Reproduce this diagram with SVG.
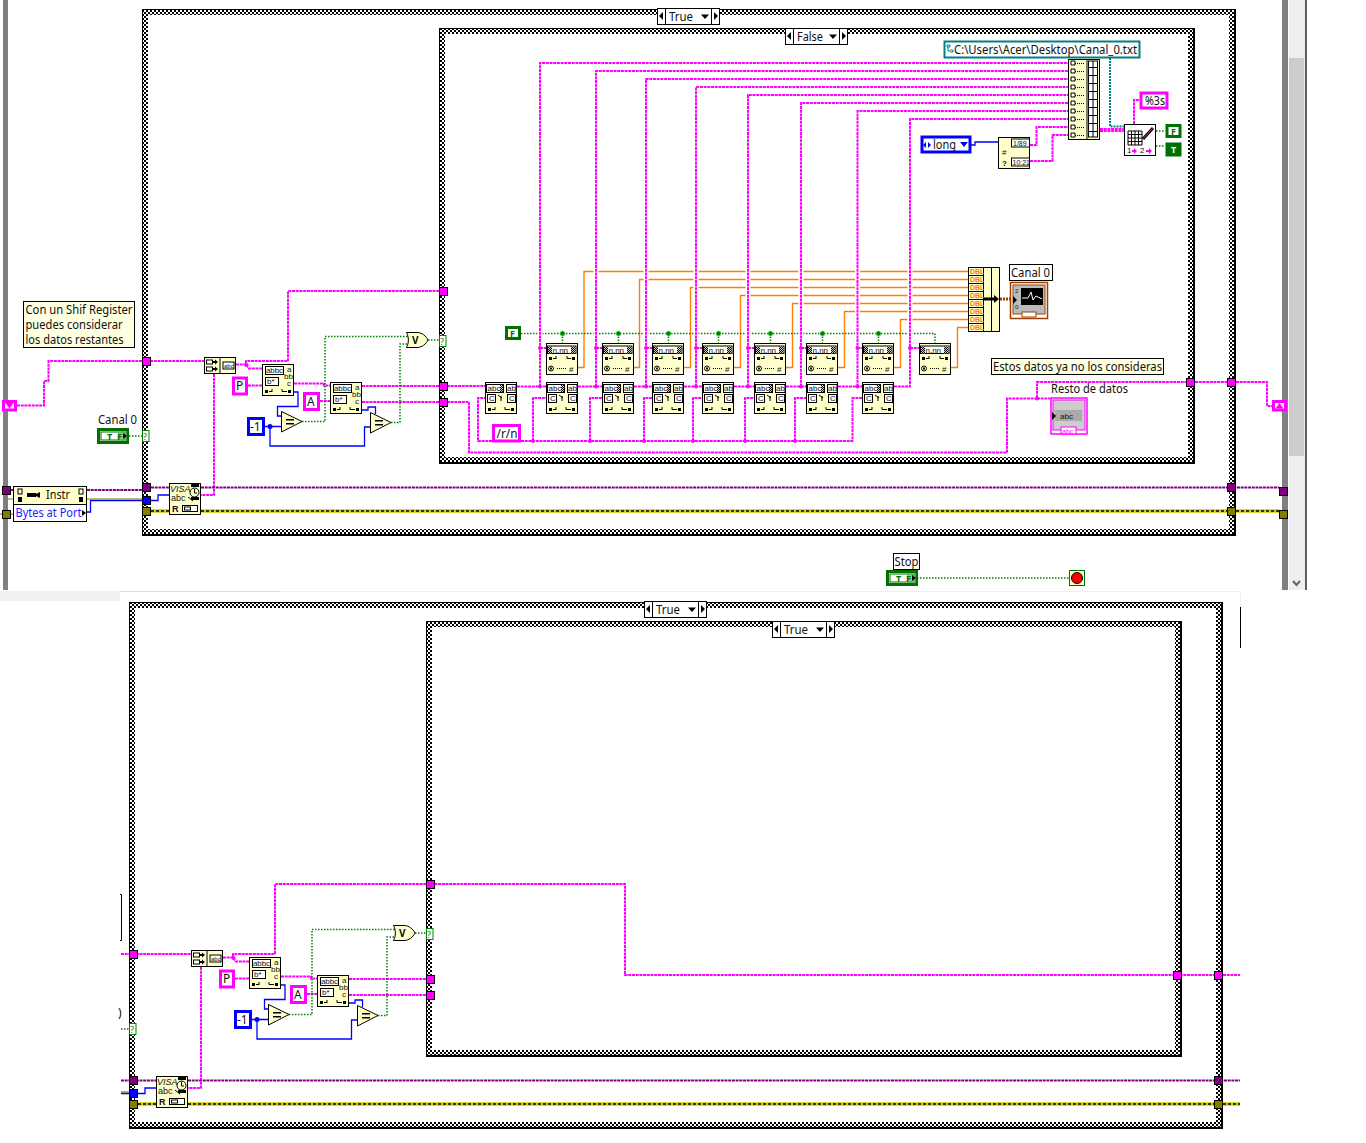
<svg xmlns="http://www.w3.org/2000/svg" width="1366" height="1143" viewBox="0 0 1366 1143">
<style>
text{font-family:"Noto Sans","Open Sans","Liberation Sans",sans-serif;font-size:12px;fill:#111}
.i{font-family:"Liberation Sans",sans-serif;font-size:8px}
.n{fill:#ffffcc;stroke:#000;stroke-width:1}
.w{fill:#fff;stroke:#000;stroke-width:1}
.k{fill:#000;stroke:none}
.l{fill:none;stroke:#000;stroke-width:1}
.dl{fill:none;stroke:#000;stroke-width:1;stroke-dasharray:1 1}
.s,.v,.e1,.e3,.et,.b,.o,.g,.t,.h{fill:none}
.s{stroke:#f0f;stroke-width:2;stroke-dasharray:3 .7}
.v{stroke:#800080;stroke-width:2;stroke-dasharray:3 .7}
.e1{stroke:#d0d000;stroke-width:3.5}
.e3{stroke:#000;stroke-width:1.5;stroke-dasharray:3 2}
.et{stroke:#808000;stroke-width:1.2}
.b{stroke:#00f;stroke-width:1.3}
.o{stroke:#ff8000;stroke-width:1.4}
.g{stroke:#008000;stroke-width:1.5;stroke-dasharray:1.5 1.5}
.t{stroke:#008080;stroke-width:2;stroke-dasharray:2 1}
.h{stroke:#fff;stroke-width:5}
.tp{fill:#f0f;stroke:#000}.tv{fill:#800080;stroke:#000}.tb{fill:#00f;stroke:#000}.to{fill:#808000;stroke:#000}
.cp{fill:#fff;stroke:#f0f;stroke-width:3}
.cb{fill:#fff;stroke:#00f;stroke-width:3}
.cg{fill:#fff;stroke:#007000;stroke-width:3}
.jp{fill:#f0f}.jg{fill:#008000;stroke:#8f8;stroke-width:.5}.jb{fill:#00f}
.lab{fill:#fff;stroke:#000}
.cm{fill:#ffffe1;stroke:#000}
</style>
<defs>
<pattern id="chk" patternUnits="userSpaceOnUse" width="4" height="4"><rect width="4" height="4" fill="#fff"/><rect width="2" height="2" fill="#000"/><rect x="2" y="2" width="2" height="2" fill="#000"/></pattern>
<pattern id="chk2" patternUnits="userSpaceOnUse" width="2" height="2"><rect width="2" height="2" fill="#ccc"/><rect width="1" height="1" fill="#000"/><rect x="1" y="1" width="1" height="1" fill="#000"/></pattern>
<g id="scan"><rect class="n" x=".5" y=".5" width="31" height="31"/><rect class="w" x="3.5" y="2.5" width="18" height="8"/><text class="i" x="4" y="9" textLength="17">abbc</text><rect class="w" x="3.5" y="13.5" width="13" height="8"/><text class="i" x="5" y="20">b*</text><text class="i" x="25" y="8">a</text><text class="i" x="22" y="15">bb</text><text class="i" x="25" y="22">c</text><rect class="k" x="3" y="26" width="3" height="3"/><path class="l" d="M7 27.500H10M10 25V28"/><rect class="k" x="26" y="26" width="3" height="3"/><path class="l" d="M20 25V27.500H25"/></g>
<g id="mat"><rect class="n" x=".5" y=".5" width="31" height="31"/><rect class="w" x="1.500" y="2.500" width="17" height="8"/><text class="i" x="2.500" y="9">abc</text><rect x="15" y="3" width="3" height="7" fill="url(#chk2)"/><rect class="w" x="21.500" y="2.500" width="9.500" height="8"/><text class="i" x="22" y="9">ab</text><rect class="w" x="2.500" y="12.500" width="8" height="8"/><text class="i" x="4" y="19">C</text><path class="l" d="M13 13L17 16M16 14V19"/><rect class="w" x="22.500" y="12.500" width="8" height="8"/><text class="i" x="24" y="19">C</text><rect class="k" x="3" y="26" width="3" height="3"/><path class="l" d="M7 27.500H10M10 25V28"/><rect class="k" x="26" y="26" width="3" height="3"/><path class="l" d="M20 25V27.500H25"/></g>
<g id="fmt"><rect class="n" x=".5" y=".5" width="31" height="31"/><rect class="w" x="1.500" y="3" width="28.500" height="7.500"/><rect x="2" y="3.500" width="4" height="7" fill="url(#chk2)"/><rect x="25" y="3.500" width="4.500" height="7" fill="url(#chk2)"/><text class="i" x="6.500" y="10">n.nn</text><rect class="k" x="3" y="14" width="3" height="3"/><path class="l" d="M7 15.500H10M10 13V16"/><rect class="k" x="26" y="14" width="3" height="3"/><path class="l" d="M21 13V15.500H25"/><circle class="l" cx="5" cy="25.500" r="2.500"/><rect class="k" x="4" y="24.500" width="2" height="2"/><path class="dl" d="M11 25.500H20"/><text class="i" x="23" y="29">#</text></g>
<g id="lbar"><rect class="w" x=".5" y=".5" width="62" height="16"/><path class="l" d="M8.500 0V16M54.500 0V16"/><path class="k" d="M6 4V12L2 8ZM57 4V12L61 8Z"/><path class="k" d="M44 6.500H52L48 11Z"/></g>
<g id="concat"><rect class="n" x=".5" y=".5" width="31" height="16"/><path class="l" d="M16 0V16"/><rect class="w" x="2.500" y="3" width="6" height="4"/><rect class="w" x="2.500" y="10" width="6" height="4"/><path class="k" d="M9 4H11V2.500L14 5 11 7.500V6H9ZM9 11H11V9.500L14 12 11 14.500V13H9Z"/><rect class="w" x="19" y="5" width="11" height="7"/><text class="i" x="20" y="11" style="font-size:6px">abc</text></g>
<g id="visa"><rect class="n" x=".5" y=".5" width="31" height="31"/><text class="i" x="1" y="9" style="font-size:9px;font-style:italic">VISA</text><rect class="k" x="22" y="1" width="8" height="3"/><rect class="k" x="22" y="14" width="8" height="3"/><circle class="l" cx="25.500" cy="9.500" r="4.500"/><path class="l" d="M25.500 6V10H28"/><text class="i" x="2" y="18" style="font-size:9px">abc</text><path class="l" d="M19 14L24 18"/><text class="i" x="3" y="29" style="font-size:9px;font-weight:bold">R</text><rect class="w" x="13.500" y="22.500" width="15" height="6"/><rect class="l" x="15.500" y="24" width="6" height="3"/></g>
<g id="trif"><path class="n" d="M.5 .5V21L21 10.500Z"/><path class="k" d="M5 8H13V9.500H5ZM5 12H13V13.500H5Z"/></g>
<g id="sel"><rect class="cg" x="1.500" y="1.500" width="29" height="13"/><rect x="4" y="4" width="24" height="8" fill="#fff" stroke="#007000"/><rect x="21" y="3" width="9" height="10" fill="#66b066" opacity=".75"/><text x="10" y="11.500" style="font-size:9px;font-weight:bold;fill:#007000" textLength="15">T F</text><path class="k" d="M26 5V11L30 8Z"/></g>
<g id="qm"><rect x=".5" y=".5" width="6.500" height="11" fill="#fff" stroke="#008000"/><text x="1" y="9.500" style="font-size:9px;fill:#008000">?</text></g>
<g id="tsq"><rect x=".5" y=".5" width="8" height="8"/></g>
</defs>

<g id="background">
<rect x="3" y="0" width="5" height="590" fill="#808080"/>
<rect x="1282" y="0" width="6" height="590" fill="#808080"/>
<rect x="1289" y="0" width="16" height="590" fill="#eee"/>
<rect x="1289" y="58" width="15" height="398" fill="#ccc"/>
<rect x="1305" y="0" width="1" height="590" fill="#0f6cbd"/>
<rect x="1306" y="0" width="1" height="590" fill="#666"/>
<path d="M1293 581L1296.500 585 1300 581" fill="none" stroke="#666" stroke-width="2"/>
<rect x="0" y="591" width="120" height="10" fill="#f0f0f0"/>
<rect x="120" y="591" width="900" height="1" fill="#ddd"/>
<rect x="280" y="591" width="960" height="1" fill="#eee"/>
<rect x="1240" y="591" width="1" height="16" fill="#eee"/>
<rect x="1240" y="607" width="1" height="41" fill="#000"/>
<path d="M120 894.500H121.500V940.500H120" fill="none" stroke="#000"/>
<text x="118" y="1017">)</text>
</g>

<g id="frames">
<g id="frame-outer-top"><rect x="142" y="9" width="1094" height="527" fill="#000"/><rect x="143" y="10" width="1091" height="524" fill="url(#chk)"/><rect x="148" y="15" width="1081" height="514" fill="#fff"/></g>
<g id="frame-inner-top"><rect x="439" y="28" width="756" height="436" fill="#000"/><rect x="440" y="29" width="753" height="433" fill="url(#chk)"/><rect x="445" y="34" width="743" height="423" fill="#fff"/></g>
<g id="frame-outer-bottom"><rect x="129" y="602" width="1094" height="527" fill="#000"/><rect x="130" y="603" width="1091" height="524" fill="url(#chk)"/><rect x="135" y="608" width="1081" height="514" fill="#fff"/></g>
<g id="frame-inner-bottom"><rect x="426" y="621" width="756" height="436" fill="#000"/><rect x="427" y="622" width="753" height="433" fill="url(#chk)"/><rect x="432" y="627" width="743" height="423" fill="#fff"/></g>
</g>

<g id="connectors">
<path class="o" d="M578 367.500H584V271.500H968M634 367.500H639.500V279.500H968M684 367.500H690.500V287.500H968M734 367.500H740.500V295.500H968M786 367.500H792.500V303.500H968M838 367.500H844.500V311.500H968M894 367.500H900.500V319.500H968M951 367.500H957.500V327.500H968"/>
<path class="g" d="M521 333.500H935V343M562.500 333.500V343M618.500 333.500V343M668.500 333.500V343M718.500 333.500V343M770.500 333.500V343M822.500 333.500V343M878.500 333.500V343"/>
<path class="h" d="M540 262V340M596 262V340M646 262V340M696 262V340M748 262V340M801 262V340M857.500 262V340M910 262V340"/>
<path class="s" d="M17 405.500H44V381H48.500V361H204M236 364.500H246V361H288V291H439M246 365L249 368.500H262M248 385.500H262M294 383.500H324V385.500H330M320 401H330M362 386H439M447 386H485M362 402H439M447 402H469V452.500H1007V398.500H1037V382H1187M1195 382H1227M1236 382H1267V406H1272M1037 398.500H1050M214 374V495H201"/>
<path class="s" d="M517 386.500H546M578 386.500H602M634 386.500H652M684 386.500H702M734 386.500H754M786 386.500H806M838 386.500H862M894 386.500H910V119H1068M540 386.500V63H1068M596 386.500V71H1068M646 386.500V79H1068M696 386.500V87H1068M748 386.500V95H1068M801 386.500V103H1068M857.500 386.500V111H1068M540 348H546M596 348H602M646 348H652M696 348H702M748 348H754M801 348H806M857.500 348H862M910 348H919"/>
<path class="s" d="M521 441H852.500V398H862M533 441V398H546M590 441V398H602M644 441V398H652M693 441V398H702M745 441V398H754M795 441V398H806M492 441H478V398H485"/>
<path class="s" d="M1030 145H1036.500V127H1068M1030 161H1052.500V135H1068M1134 124V100H1139M1100 129H1124M1100 131H1124"/>
<path class="t" d="M1110 58V126.500H1124"/>
<path class="b" d="M971 145H975V142H998M294 392H298V406.500H277.500V416H281M265 426.500H281M270 426.500V446H364.500V427H370M362 410H368V407H375.500V414M87 512H90.500V500.500H143M151 500.500H158V495H169"/>
<path class="g" d="M302 421.500H325V336.500H408M391 422.500H400V344H408M428 340H439M129 436H142M1156 131H1165M1156 146H1165M917 578H1069"/>
<path class="v" d="M11 490H13M87 490H143M151 487.500H169M201 487.500H1279"/>
<path class="et" d="M87 499H143M8 499H13M0 514H3M11 514H13"/>
<path class="e1" d="M151 511H169M201 511H1279"/><path class="e3" d="M151 511H169M201 511H1279"/>
<path d="M1000 299H1010" fill="none" stroke="#a04000" stroke-width="3" stroke-dasharray="2 1"/>
<g transform="translate(-13 593)">
<path class="s" d="M134 361H204M236 364.500H246V361H288V291H638V382H1227M1236 382H1253M246 365L249 368.500H262M248 385.500H262M294 383.500H324V385.500H330M320 401H330M362 386H439M362 402H439M214 374V495H201"/>
<path class="b" d="M294 392H298V406.500H277.500V416H281M265 426.500H281M270 426.500V446H364.500V427H370M362 410H368V407H375.500V414M134 500.500H143M151 500.500H158V495H169"/>
<path class="g" d="M302 421.500H325V336.500H408M391 422.500H400V344H408M428 340H439M134 436H142"/>
<path class="v" d="M134 487.500H169M201 487.500H1253"/>
<path class="et" d="M134 499H143"/>
<path class="e1" d="M151 511H169M201 511H1253"/><path class="e3" d="M151 511H169M201 511H1253"/>
<circle class="jp" cx="246.500" cy="365" r="2"/><circle class="jb" cx="270" cy="426.500" r="2.500"/>
</g>
<g id="junctions">
<circle class="jp" cx="246.500" cy="365" r="2"/><circle class="jb" cx="270" cy="426.500" r="2.500"/><circle class="jp" cx="1037" cy="398.500" r="2"/>
<circle class="jp" cx="540" cy="386.500" r="2"/><circle class="jp" cx="596" cy="386.500" r="2"/><circle class="jp" cx="646" cy="386.500" r="2"/><circle class="jp" cx="696" cy="386.500" r="2"/><circle class="jp" cx="748" cy="386.500" r="2"/><circle class="jp" cx="801" cy="386.500" r="2"/><circle class="jp" cx="857.500" cy="386.500" r="2"/>
<circle class="jp" cx="540" cy="348" r="2"/><circle class="jp" cx="596" cy="348" r="2"/><circle class="jp" cx="646" cy="348" r="2"/><circle class="jp" cx="696" cy="348" r="2"/><circle class="jp" cx="748" cy="348" r="2"/><circle class="jp" cx="801" cy="348" r="2"/><circle class="jp" cx="857.500" cy="348" r="2"/><circle class="jp" cx="910" cy="348" r="2"/>
<circle class="jp" cx="533" cy="441" r="2"/><circle class="jp" cx="590" cy="441" r="2"/><circle class="jp" cx="644" cy="441" r="2"/><circle class="jp" cx="693" cy="441" r="2"/><circle class="jp" cx="745" cy="441" r="2"/><circle class="jp" cx="795" cy="441" r="2"/>
<circle class="jg" cx="562.500" cy="333.500" r="2.500"/><circle class="jg" cx="618.500" cy="333.500" r="2.500"/><circle class="jg" cx="668.500" cy="333.500" r="2.500"/><circle class="jg" cx="718.500" cy="333.500" r="2.500"/><circle class="jg" cx="770.500" cy="333.500" r="2.500"/><circle class="jg" cx="822.500" cy="333.500" r="2.500"/><circle class="jg" cx="878.500" cy="333.500" r="2.500"/>
</g>
</g>

<g id="sel-true-top"><use href="#lbar" x="657" y="8"/><text x="669" y="21" textLength="24" lengthAdjust="spacingAndGlyphs">True</text></g>
<g id="sel-false-top"><use href="#lbar" x="785" y="28"/><text x="797" y="41" textLength="26" lengthAdjust="spacingAndGlyphs">False</text></g>
<g id="sel-true-bottom"><use href="#lbar" x="644" y="601"/><text x="656" y="614" textLength="24" lengthAdjust="spacingAndGlyphs">True</text></g>
<g id="sel-true-bottom2"><use href="#lbar" x="772" y="621"/><text x="784" y="634" textLength="24" lengthAdjust="spacingAndGlyphs">True</text></g>

<g id="sr-left"><rect class="cp" x="3.500" y="401.500" width="12" height="8.500"/><path d="M5.500 403H13.500L9.500 408.500Z" fill="#f0f"/></g>
<g id="sr-right"><rect class="cp" x="1273.500" y="401.500" width="12" height="8.500"/><path d="M1275.500 408.500H1283.500L1279.500 403Z" fill="#f0f"/></g>
<g id="comment1"><rect class="cm" x="23.500" y="301.500" width="111" height="46"/><text x="25.500" y="314" textLength="107" lengthAdjust="spacingAndGlyphs">Con un Shif Register</text><text x="25.500" y="329" textLength="97" lengthAdjust="spacingAndGlyphs">puedes considerar</text><text x="25.500" y="344" textLength="98" lengthAdjust="spacingAndGlyphs">los datos restantes</text></g>
<g id="comment2"><rect class="cm" x="991.500" y="358.500" width="172" height="16"/><text x="993" y="371" textLength="169" lengthAdjust="spacingAndGlyphs">Estos datos ya no los consideras</text></g>
<g id="canal0-control"><text x="98" y="424" textLength="39" lengthAdjust="spacingAndGlyphs">Canal 0</text><use href="#sel" x="97" y="428"/></g>
<g id="prop-node"><rect class="n" x="13.500" y="486.500" width="73" height="18"/><rect class="w" x="13.500" y="504.500" width="73" height="17"/><rect class="w" x="18" y="489" width="4" height="5"/><rect class="w" x="79" y="489" width="4" height="5"/><path class="k" d="M18 497H22V502H18ZM79 497H83V502H79Z"/><path class="k" d="M27 493H36V497H27ZM36 494L40 492V498L36 496Z"/><text x="46" y="499" textLength="24" lengthAdjust="spacingAndGlyphs">Instr</text><text x="15.500" y="517" style="fill:#2222ff" textLength="66" lengthAdjust="spacingAndGlyphs">Bytes at Port</text><path class="k" d="M82 510V516L86 513Z"/></g>
<g id="visa-read-top"><use href="#visa" x="169" y="483"/></g>
<g id="concat-top"><use href="#concat" x="204" y="357"/></g>
<g id="scan1-top"><use href="#scan" x="262" y="364"/></g>
<g id="scan2-top"><use href="#scan" x="330" y="382"/></g>
<g id="p-top"><rect class="cp" x="233.500" y="378" width="13" height="16"/><text x="236" y="390">P</text></g>
<g id="a-top"><rect class="cp" x="304.500" y="393.500" width="14" height="16"/><text x="307" y="406">A</text></g>
<g id="m1-top"><rect class="cb" x="248.500" y="418.500" width="15" height="16"/><text x="250" y="431">-1</text></g>
<g id="eq1-top"><use href="#trif" x="281" y="411"/></g>
<g id="eq2-top"><use href="#trif" x="370" y="412"/></g>
<g id="or-top"><path class="n" d="M406.500 332.500H417C422 332.500 426 336 428 340 426 344 422 347.500 417 347.500H406.500C409 343 409 337 406.500 332.500Z"/><text x="412" y="344" style="font-weight:bold;font-size:10px">V</text></g>
<g id="q1-top"><use href="#qm" x="439" y="335"/></g>
<g id="q2-top"><use href="#qm" x="142" y="430"/></g>
<g id="tunnels-top">
<g id="tn1"><use href="#tsq" class="tp" x="142" y="357"/></g><g id="tn2"><use href="#tsq" class="tv" x="142" y="483"/></g><g id="tn3"><use href="#tsq" class="tb" x="142" y="496"/></g><g id="tn4"><use href="#tsq" class="to" x="142" y="507"/></g>
<g id="tn5"><use href="#tsq" class="tp" x="439" y="287"/></g><g id="tn6"><use href="#tsq" class="tp" x="439" y="382"/></g><g id="tn7"><use href="#tsq" class="tp" x="439" y="398"/></g>
<g id="tn8"><use href="#tsq" class="tp" x="1186" y="378"/></g><g id="tn9"><use href="#tsq" class="tp" x="1227" y="378"/></g><g id="tn10"><use href="#tsq" class="tv" x="1227" y="483"/></g><g id="tn11"><use href="#tsq" class="to" x="1227" y="507"/></g>
<g id="tn12"><use href="#tsq" class="tv" x="2" y="486"/></g><g id="tn13"><use href="#tsq" class="to" x="2" y="510"/></g><g id="tn14"><use href="#tsq" class="tv" x="1279" y="487"/></g><g id="tn15"><use href="#tsq" class="to" x="1279" y="510"/></g>
</g>
<g id="match0"><use href="#mat" x="485" y="382"/></g>
<g id="match1"><use href="#mat" x="546" y="382"/></g><g id="match2"><use href="#mat" x="602" y="382"/></g><g id="match3"><use href="#mat" x="652" y="382"/></g><g id="match4"><use href="#mat" x="702" y="382"/></g><g id="match5"><use href="#mat" x="754" y="382"/></g><g id="match6"><use href="#mat" x="806" y="382"/></g><g id="match7"><use href="#mat" x="862" y="382"/></g>
<g id="fmt1"><use href="#fmt" x="546" y="343"/></g><g id="fmt2"><use href="#fmt" x="602" y="343"/></g><g id="fmt3"><use href="#fmt" x="652" y="343"/></g><g id="fmt4"><use href="#fmt" x="702" y="343"/></g><g id="fmt5"><use href="#fmt" x="754" y="343"/></g><g id="fmt6"><use href="#fmt" x="806" y="343"/></g><g id="fmt7"><use href="#fmt" x="862" y="343"/></g><g id="fmt8"><use href="#fmt" x="919" y="343"/></g>
<g id="rn-const"><rect class="cp" x="493.500" y="425.500" width="26" height="15.500"/><text x="496.500" y="438" textLength="21" lengthAdjust="spacingAndGlyphs">/r/n</text></g>
<g id="f-const"><rect class="cg" x="506.500" y="327.500" width="13" height="11"/><text x="510" y="337" style="font-size:9px;font-weight:bold;fill:#007000">F</text></g>
<g id="build-dbl"><rect class="n" x="968.500" y="267.500" width="31" height="64"/><path class="l" d="M983.500 267V331M991.500 267V331"/>
<text class="i" x="970" y="274" style="fill:#ff8000;font-size:7px;font-weight:bold">DBL</text><text class="i" x="970" y="282" style="fill:#ff8000;font-size:7px;font-weight:bold">DBL</text><text class="i" x="970" y="290" style="fill:#ff8000;font-size:7px;font-weight:bold">DBL</text><text class="i" x="970" y="298" style="fill:#ff8000;font-size:7px;font-weight:bold">DBL</text><text class="i" x="970" y="306" style="fill:#ff8000;font-size:7px;font-weight:bold">DBL</text><text class="i" x="970" y="314" style="fill:#ff8000;font-size:7px;font-weight:bold">DBL</text><text class="i" x="970" y="322" style="fill:#ff8000;font-size:7px;font-weight:bold">DBL</text><text class="i" x="970" y="330" style="fill:#ff8000;font-size:7px;font-weight:bold">DBL</text>
<path class="l" d="M968 275.500H983M968 283.500H983M968 291.500H983M968 299.500H983M968 307.500H983M968 315.500H983M968 323.500H983"/><path class="k" d="M984 297.500H994V295L999 299 994 303V300.500H984Z"/></g>
<g id="chart"><rect x="1010.500" y="282.500" width="37" height="36" fill="#fff" stroke="#a04000" stroke-width="1.500"/><rect x="1013" y="285" width="32" height="29" fill="#bbb" stroke="#a04000"/><rect x="1021" y="288" width="22" height="17" fill="#000"/><path d="M1022 298H1028L1031 292 1033 300 1036 296 1042 299" fill="none" stroke="#fff"/><text class="i" x="1015" y="293" style="font-size:6px">2</text><text class="i" x="1015" y="309" style="font-size:6px">0</text><path class="k" d="M1013 296V304L1017 300Z"/><rect x="1022" y="312" width="14" height="5" fill="#fff" stroke="#a04000"/></g>
<g id="canal0-label"><rect class="lab" x="1009.500" y="264.500" width="43" height="16"/><text x="1011" y="277" textLength="39" lengthAdjust="spacingAndGlyphs">Canal 0</text></g>
<g id="resto"><text x="1051" y="393" textLength="77" lengthAdjust="spacingAndGlyphs">Resto de datos</text><rect x="1051" y="398" width="36" height="36" fill="#fff" stroke="#f0f" stroke-width="1.500"/><rect x="1053" y="400" width="32" height="30" fill="#ccc" stroke="#f0f"/><rect x="1055" y="410" width="27" height="11" fill="#aaa"/><text class="i" x="1060" y="419">abc</text><path class="k" d="M1052 412V420L1056 416Z"/><rect x="1061" y="427" width="15" height="7" fill="#fff" stroke="#f0f"/><text class="i" x="1062" y="433.500" style="fill:#f0f;font-size:7px">abc</text></g>
<g id="path-const"><rect x="944.500" y="41.500" width="195" height="16" fill="#fff" stroke="#008080" stroke-width="2"/><path d="M947 45H950V47H947ZM950 50H953V52H950M948 47V51H950" fill="none" stroke="#008080"/><text x="954" y="54" textLength="183" lengthAdjust="spacingAndGlyphs">C:\Users\Acer\Desktop\Canal_0.txt</text></g>
<g id="build-str"><rect class="n" x="1068.500" y="59.500" width="31" height="80"/><path class="l" d="M1087 60V139"/><rect class="w" x="1088.500" y="61" width="9" height="76"/><path class="l" d="M1093 61V137M1088 67.500H1098M1088 75.500H1098M1088 83.500H1098M1088 91.500H1098M1088 99.500H1098M1088 107.500H1098M1088 115.500H1098M1088 123.500H1098M1088 131.500H1098"/>
<path class="dl" d="M1075 63.500H1085M1075 71.500H1085M1075 79.500H1085M1075 87.500H1085M1075 95.500H1085M1075 103.500H1085M1075 111.500H1085M1075 119.500H1085M1075 127.500H1085M1075 135.500H1085"/>
<path class="w" d="M1071 61h4v4h-4ZM1071 69h4v4h-4ZM1071 77h4v4h-4ZM1071 85h4v4h-4ZM1071 93h4v4h-4ZM1071 101h4v4h-4ZM1071 109h4v4h-4ZM1071 117h4v4h-4ZM1071 125h4v4h-4ZM1071 133h4v4h-4Z"/></g>
<g id="long-const"><rect class="cb" x="922" y="137" width="48" height="15"/><path d="M926 142V148L923 145ZM928 142V148L931 145Z" fill="#00f"/><text x="933" y="149" textLength="23" lengthAdjust="spacingAndGlyphs">long</text><path d="M960 142H968L964 147Z" fill="#00f"/></g>
<g id="date-node"><rect class="n" x="998.500" y="137.500" width="31" height="31"/><rect class="w" x="1011.500" y="139" width="18" height="8"/><text class="i" x="1013" y="146" style="font-size:7px">1/89</text><rect class="w" x="1011.500" y="158" width="18" height="8"/><text class="i" x="1012.500" y="165" style="font-size:7px">10:21</text><text class="i" x="1002" y="155">#</text><text class="i" x="1002" y="166" style="font-weight:bold">?</text></g>
<g id="write-node"><rect class="w" x="1124.500" y="124.500" width="31" height="31"/><path class="l" d="M1128 131H1142V145H1128ZM1128 134.500H1142M1128 138H1142M1128 141.500H1142M1131.500 131V145M1135 131V145M1138.500 131V145"/><path d="M1143 139L1153 128" stroke="#000" stroke-width="3"/><path d="M1143.500 138.500L1152.500 128.500" stroke="#d44" stroke-width="1"/><text class="i" x="1127" y="153">1</text><path d="M1132 150H1134V148L1137 151 1134 154V152H1132Z" fill="#f0f"/><text class="i" x="1140" y="153">2</text><path d="M1146 150H1149V148L1152 151 1149 154V152H1146Z" fill="#f0f"/></g>
<g id="pct-const"><rect class="cp" x="1141" y="93" width="26" height="15"/><text x="1145" y="105" textLength="20" lengthAdjust="spacingAndGlyphs">%3s</text></g>
<g id="f-ind"><rect class="cg" x="1167" y="125.500" width="13" height="11"/><text x="1171" y="135" style="font-size:9px;font-weight:bold;fill:#007000">F</text></g>
<g id="t-ind"><rect x="1167" y="144" width="13" height="11" fill="#007000" stroke="#007000" stroke-width="3"/><text x="1171" y="153" style="font-size:9px;font-weight:bold;fill:#fff">T</text></g>
<g id="stop-control"><rect class="lab" x="893.500" y="553.500" width="26" height="16"/><text x="894.500" y="566" textLength="24" lengthAdjust="spacingAndGlyphs">Stop</text><use href="#sel" x="886" y="570"/></g>
<g id="stop-node"><rect x="1069.500" y="570.500" width="15" height="15" fill="#ffffcc" stroke="#007000"/><circle cx="1077" cy="578" r="5.500" fill="#f00" stroke="#000"/></g>

<g id="bottom-cluster" transform="translate(-13 593)">
<g id="visa-read-bottom"><use href="#visa" x="169" y="483"/></g>
<g id="concat-bottom"><use href="#concat" x="204" y="357"/></g>
<g id="scan1-bottom"><use href="#scan" x="262" y="364"/></g>
<g id="scan2-bottom"><use href="#scan" x="330" y="382"/></g>
<g id="p-bottom"><rect class="cp" x="233.500" y="378" width="13" height="16"/><text x="236" y="390">P</text></g>
<g id="a-bottom"><rect class="cp" x="304.500" y="393.500" width="14" height="16"/><text x="307" y="406">A</text></g>
<g id="m1-bottom"><rect class="cb" x="248.500" y="418.500" width="15" height="16"/><text x="250" y="431">-1</text></g>
<g id="eq1-bottom"><use href="#trif" x="281" y="411"/></g>
<g id="eq2-bottom"><use href="#trif" x="370" y="412"/></g>
<g id="or-bottom"><path class="n" d="M406.500 332.500H417C422 332.500 426 336 428 340 426 344 422 347.500 417 347.500H406.500C409 343 409 337 406.500 332.500Z"/><text x="412" y="344" style="font-weight:bold;font-size:10px">V</text></g>
<g id="q1-bottom"><use href="#qm" x="439" y="335"/></g>
<g id="q2-bottom"><use href="#qm" x="142" y="430"/></g>
<g id="bn1"><use href="#tsq" class="tp" x="142" y="357"/></g><g id="bn2"><use href="#tsq" class="tv" x="142" y="483"/></g><g id="bn3"><use href="#tsq" class="tb" x="142" y="496"/></g><g id="bn4"><use href="#tsq" class="to" x="142" y="507"/></g>
<g id="bn5"><use href="#tsq" class="tp" x="439" y="287"/></g><g id="bn6"><use href="#tsq" class="tp" x="439" y="382"/></g><g id="bn7"><use href="#tsq" class="tp" x="439" y="398"/></g>
<g id="bn8"><use href="#tsq" class="tp" x="1186" y="378"/></g><g id="bn9"><use href="#tsq" class="tp" x="1227" y="378"/></g><g id="bn10"><use href="#tsq" class="tv" x="1227" y="483"/></g><g id="bn11"><use href="#tsq" class="to" x="1227" y="507"/></g>
</g>
</svg>
